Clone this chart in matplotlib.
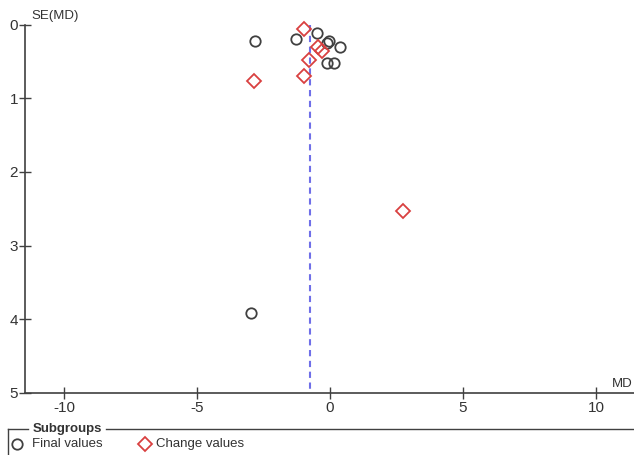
import matplotlib.pyplot as plt
from matplotlib.lines import Line2D

plt.rcParams['font.family'] = ['Liberation Sans', 'DejaVu Sans']

# funnel plot data (MD vs SE(MD))
final_md = [-2.82, -1.29, -0.48, -0.12, -0.05, 0.38, -0.12, 0.15, -2.98]
final_se = [0.23, 0.19, 0.11, 0.25, 0.23, 0.31, 0.52, 0.52, 3.92]
change_md = [-0.98, -0.45, -0.32, -0.78, -0.98, -2.86, 2.76]
change_se = [0.06, 0.31, 0.36, 0.48, 0.70, 0.76, 2.53]
pooled_md = -0.75

xticks = [-10, -5, 0, 5, 10]
yticks = [0, 1, 2, 3, 4, 5]
legend_labels = ['Final values', 'Change values']

fig = plt.figure(figsize=(6.34, 4.55), dpi=100)
ax = fig.add_axes([25 / 634, 62 / 455, 609 / 634, 368.5 / 455])

grey = '#404040'
red = '#d94040'
circle_style = dict(ls='none', marker='o', ms=7.5, mfc='none', mec=grey, mew=1.3)
diamond_style = dict(ls='none', marker='D', ms=7.5, mfc='none', mec=red, mew=1.3)

ax.plot([pooled_md, pooled_md], [0, 5], color='#6f6fe8', lw=1.5, ls=(0, (3, 2.2)), zorder=1)
ax.plot(final_md, final_se, clip_on=False, **circle_style)
ax.plot(change_md, change_se, clip_on=False, **diamond_style)

ax.set_xlim(-11.47, 11.43)
ax.set_ylim(5, 0)
ax.set_xticks(xticks)
ax.set_yticks(yticks)
ax.set_xticklabels([str(t) for t in xticks])
ax.set_yticklabels([str(t) for t in yticks])
for s in ['top', 'right']:
    ax.spines[s].set_visible(False)
for s in ['left', 'bottom']:
    ax.spines[s].set_color(grey)
    ax.spines[s].set_linewidth(1.2)
ax.tick_params(direction='inout', length=8, width=1, color=grey, labelsize=11, labelcolor='#333333')
ax.tick_params(axis='x', pad=2)
ax.tick_params(axis='y', pad=1)

fig.text(31 / 634, 1 - 16 / 455, 'SE(MD)', fontsize=9.5, color='#333333', va='center', ha='left')
fig.text(633 / 634, 1 - 384 / 455, 'MD', fontsize=9.5, color='#333333', va='center', ha='right')

# subgroup legend with fieldset-style frame
ly = 1 - 429 / 455
fig.add_artist(Line2D([8 / 634, 8 / 634], [0, ly], color=grey, lw=1))
fig.add_artist(Line2D([8 / 634, 28 / 634], [ly, ly], color=grey, lw=1))
fig.add_artist(Line2D([106 / 634, 1], [ly, ly], color=grey, lw=1))
fig.text(33 / 634, ly, 'Subgroups', fontsize=9.5, fontweight='bold', color='#333333', va='center', ha='left')

ey = 1 - 444 / 455
fig.add_artist(Line2D([17 / 634], [ey], **circle_style))
fig.text(32 / 634, ey, legend_labels[0], fontsize=9.5, color='#333333', va='center', ha='left')
fig.add_artist(Line2D([145 / 634], [ey], **diamond_style))
fig.text(156 / 634, ey, legend_labels[1], fontsize=9.5, color='#333333', va='center', ha='left')

fig.savefig('out.png', dpi=100)
